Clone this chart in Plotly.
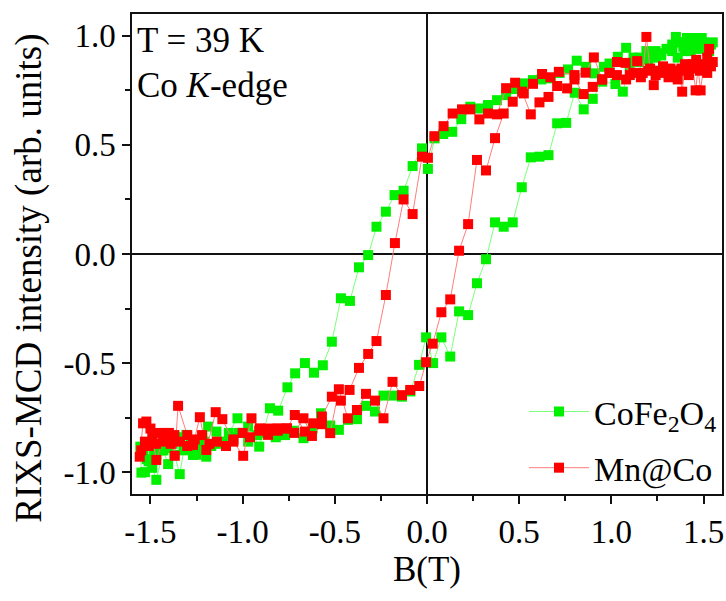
import plotly.graph_objects as go

# ---------------- data ----------------
# CoFe2O4 : descending branch (+B -> -B) followed by ascending branch (-B -> +B)
cofe_B = [
    1.55, 1.53, 1.51, 1.49, 1.47, 1.45, 1.43, 1.41, 1.39, 1.37, 1.35, 1.33, 1.30, 1.27, 1.24,
    1.19, 1.15, 1.12, 1.08, 1.035, 0.99, 0.96, 0.91, 0.863, 0.812, 0.765, 0.72, 0.671, 0.62,
    0.575, 0.528, 0.465, 0.429, 0.38, 0.331, 0.284, 0.235, 0.186, 0.137, 0.088, 0.041, 0.005,
    -0.027, -0.078, -0.127, -0.176, -0.223, -0.274, -0.319, -0.369, -0.418, -0.467, -0.516,
    -0.565, -0.613, -0.662, -0.715, -0.757, -0.807, -0.852, -0.91, -0.97, -1.028, -1.075,
    -1.124, -1.142, -1.187, -1.197, -1.25, -1.269, -1.305, -1.341, -1.37, -1.404, -1.43,
    -1.468, -1.49, -1.51, -1.53, -1.549, -1.555,
    -1.54, -1.52, -1.50, -1.48, -1.46, -1.44, -1.42, -1.40, -1.38, -1.35, -1.32, -1.28, -1.25,
    -1.21, -1.17, -1.12, -1.07, -1.02, -0.97, -0.92, -0.87, -0.82, -0.77, -0.72, -0.67, -0.62,
    -0.575, -0.525, -0.478, -0.429, -0.38, -0.331, -0.282, -0.236, -0.185, -0.136, -0.09,
    -0.043, -0.005, 0.033, 0.078, 0.126, 0.174, 0.223, 0.271, 0.32, 0.369, 0.416, 0.465, 0.514,
    0.563, 0.61, 0.659, 0.706, 0.755, 0.801, 0.85, 0.899, 0.95, 1.022, 1.062, 1.10, 1.15, 1.20,
    1.24, 1.27, 1.30, 1.33, 1.36, 1.38, 1.40, 1.42, 1.44, 1.46, 1.48, 1.50, 1.52, 1.54,
]
cofe_I = [
    0.97, 0.93, 0.96, 0.99, 0.95, 0.97, 0.93, 0.99, 0.95, 0.97, 0.995, 0.93, 0.94, 0.91, 0.90,
    0.93, 0.88, 0.90, 0.945, 0.904, 0.873, 0.858, 0.828, 0.858, 0.886, 0.846, 0.83, 0.805, 0.80,
    0.797, 0.782, 0.756, 0.728, 0.705, 0.683, 0.667, 0.675, 0.618, 0.56, 0.55, 0.53, 0.39,
    0.484, 0.403, 0.29, 0.27, 0.194, 0.125, -0.005, -0.061, -0.215, -0.203, -0.402,
    -0.51, -0.544, -0.50, -0.547, -0.611, -0.718, -0.707, -0.883, -0.791, -0.753, -0.82,
    -0.86, -0.814, -0.791, -0.929, -0.88, -0.921, -0.829, -1.009, -0.92, -0.963, -0.90,
    -1.035, -0.98, -0.95, -1.00, -1.002, -0.883,
    -0.90, -0.94, -0.87, -0.92, -0.88, -0.90, -0.85, -0.89, -0.87, -0.84, -0.90, -0.87, -0.92,
    -0.86, -0.88, -0.87, -0.84, -0.82, -0.86, -0.83, -0.82, -0.84, -0.83, -0.81, -0.844, -0.80,
    -0.73, -0.786, -0.806, -0.76, -0.757, -0.696, -0.722, -0.649, -0.649, -0.654, -0.63,
    -0.508, -0.382, -0.50, -0.382, -0.47, -0.263, -0.28, -0.134, -0.024, 0.145, 0.125, 0.145, 0.306,
    0.443, 0.446, 0.453, 0.599, 0.601, 0.739, 0.663, 0.711, 0.79, 0.779, 0.744, 0.86, 0.90, 0.89,
    0.93, 0.92, 0.94, 0.96, 0.90, 0.97, 0.93, 0.98, 0.95, 0.99, 0.94, 0.97, 0.93, 0.96,
]

# Mn@Co : descending branch followed by ascending branch
mnco_B = [
    1.55, 1.53, 1.52, 1.50, 1.484, 1.47, 1.457, 1.44, 1.42, 1.40, 1.384, 1.37, 1.35, 1.32, 1.29,
    1.26, 1.23, 1.21, 1.19, 1.17, 1.14, 1.10, 1.077, 1.03, 0.99, 0.95, 0.905, 0.86, 0.80, 0.715,
    0.669, 0.624, 0.575, 0.525, 0.478, 0.429, 0.38, 0.331, 0.284, 0.235, 0.19, 0.139, 0.09, 0.04,
    0.005, -0.027, -0.078, -0.127, -0.174, -0.223, -0.274, -0.319, -0.369, -0.42, -0.467, -0.516,
    -0.57, -0.617, -0.662, -0.717, -0.76, -0.81, -0.862, -0.907, -0.952, -0.997, -1.05, -1.11,
    -1.146, -1.197, -1.232, -1.269, -1.30, -1.35, -1.368, -1.40, -1.43, -1.468, -1.50, -1.522,
    -1.54, -1.558,
    -1.55, -1.53, -1.51, -1.49, -1.47, -1.45, -1.43, -1.41, -1.39, -1.37, -1.34, -1.30, -1.26,
    -1.22, -1.18, -1.14, -1.09, -1.05, -1.00, -0.96, -0.91, -0.86, -0.81, -0.76, -0.72, -0.67,
    -0.624, -0.57, -0.525, -0.478, -0.429, -0.38, -0.331, -0.282, -0.236, -0.187, -0.136, -0.091,
    -0.042, -0.005, 0.031, 0.078, 0.126, 0.174, 0.223, 0.271, 0.32, 0.369, 0.416, 0.465, 0.516,
    0.563, 0.61, 0.659, 0.706, 0.76, 0.80, 0.85, 0.899, 0.95, 0.99, 1.03, 1.08, 1.12, 1.16, 1.20,
    1.24, 1.28, 1.31, 1.34, 1.36, 1.38, 1.40, 1.42, 1.44, 1.46, 1.48, 1.50, 1.52, 1.54,
]
mnco_I = [
    0.88, 0.94, 0.90, 0.86, 0.75, 0.85, 0.75, 0.87, 0.83, 0.86, 0.744, 0.84, 0.82, 0.85, 0.83,
    0.84, 0.774, 0.85, 0.995, 0.83, 0.884, 0.82, 0.876, 0.88, 0.83, 0.80, 0.901, 0.831, 0.82, 0.835,
    0.81, 0.825, 0.78, 0.736, 0.785, 0.76, 0.64, 0.644, 0.617, 0.663, 0.663, 0.644, 0.586, 0.54,
    0.441, 0.446, 0.183, 0.25, 0.05, -0.188, -0.399, -0.458, -0.522, -0.623, -0.672, -0.654,
    -0.745, -0.776, -0.814, -0.738, -0.799, -0.799, -0.829, -0.799, -0.753, -0.925, -0.86, -0.757,
    -0.725, -0.898, -0.748, -0.875, -0.83, -0.696, -0.925, -0.82, -0.85, -0.944, -0.80, -0.768,
    -0.776, -0.929,
    -0.90, -0.86, -0.88, -0.84, -0.87, -0.82, -0.86, -0.84, -0.87, -0.83, -0.86, -0.88, -0.85,
    -0.83, -0.87, -0.86, -0.88, -0.85, -0.82, -0.84, -0.81, -0.80, -0.81, -0.80, -0.82, -0.753,
    -0.834, -0.78, -0.821, -0.62, -0.753, -0.715, -0.641, -0.672, -0.753, -0.586, -0.647, -0.623,
    -0.605, -0.496, -0.411, -0.267, -0.208, 0.015, 0.137, 0.431, 0.383, 0.531, 0.644, 0.698, 0.744,
    0.64, 0.695, 0.72, 0.77, 0.759, 0.80, 0.733, 0.766, 0.80, 0.83, 0.82, 0.80, 0.83, 0.81, 0.84,
    0.82, 0.86, 0.81, 0.84, 0.80, 0.85, 0.87, 0.82, 0.86, 0.89, 0.84, 0.87, 0.83, 0.86,
]

series_names = ["CoFe<sub>2</sub>O<sub>4</sub>", "Mn@Co"]
x_tick_vals = [-1.5, -1.0, -0.5, 0.0, 0.5, 1.0, 1.5]
x_tick_text = ["-1.5", "-1.0", "-0.5", "0.0", "0.5", "1.0", "1.5"]
y_tick_vals = [-1.0, -0.5, 0.0, 0.5, 1.0]
y_tick_text = ["-1.0", "-0.5", "0.0", "0.5", "1.0"]

FONT = "Liberation Serif"

fig = go.Figure()
fig.add_trace(go.Scatter(
    x=cofe_B, y=cofe_I, mode="lines+markers", name=series_names[0], legendgroup="g1",
    line=dict(color="#7dff7d", width=1),
    marker=dict(symbol="square", size=10, color="#00f000", line=dict(width=0)),
))
fig.add_trace(go.Scatter(
    x=mnco_B, y=mnco_I, mode="lines+markers", name=series_names[1], legendgroup="g2",
    line=dict(color="#ff7d7d", width=1),
    marker=dict(symbol="square", size=10, color="#ff0000", line=dict(width=0)),
))

axis_common = dict(
    showline=True, linecolor="#111", linewidth=1.5, mirror=True,
    ticks="outside", tickcolor="#111", tickwidth=1.5, ticklen=8,
    showgrid=False, zeroline=True, zerolinecolor="#111", zerolinewidth=2,
    tickfont=dict(family=FONT, size=33, color="black"),
    automargin=False,
)

fig.update_xaxes(
    range=[-1.6, 1.6], tickvals=x_tick_vals, ticktext=x_tick_text,
    minor=dict(ticks="outside", dtick=0.25, tick0=0, ticklen=5, tickcolor="#111", tickwidth=1.5),
    title=dict(text="B(T)", font=dict(family=FONT, size=35, color="black"), standoff=2),
    **axis_common,
)
fig.update_yaxes(
    range=[-1.1, 1.1], tickvals=y_tick_vals, ticktext=y_tick_text,
    minor=dict(ticks="outside", dtick=0.25, tick0=0, ticklen=5, tickcolor="#111", tickwidth=1.5),
    **axis_common,
)

fig.update_layout(
    width=726, height=601,
    margin=dict(l=132, r=4, t=14, b=107),
    paper_bgcolor="white", plot_bgcolor="white",
    font=dict(family=FONT, color="black"),
    legend=dict(
        x=1.0, xanchor="right", y=-0.006, yanchor="bottom",
        tracegroupgap=9, itemwidth=60,
        bgcolor="rgba(0,0,0,0)", font=dict(family=FONT, size=34, color="black"),
    ),
    annotations=[
        dict(text="T = 39 K", xref="paper", yref="paper", x=0.005, y=0.944,
             xanchor="left", yanchor="middle", showarrow=False,
             font=dict(family=FONT, size=35, color="black")),
        dict(text="Co <i>K</i>-edge", xref="paper", yref="paper", x=0.005, y=0.851,
             xanchor="left", yanchor="middle", showarrow=False,
             font=dict(family=FONT, size=35, color="black")),
        dict(text="RIXS-MCD intensity (arb. units)", xref="paper", yref="paper",
             x=-0.175, y=0.45, xanchor="center", yanchor="middle", textangle=-90,
             showarrow=False, font=dict(family=FONT, size=37, color="black")),
    ],
)

fig.write_html(
    "out.html",
    config={"displayModeBar": False},
    post_script="document.body.style.margin='0px';document.body.style.overflow='hidden';",
)
